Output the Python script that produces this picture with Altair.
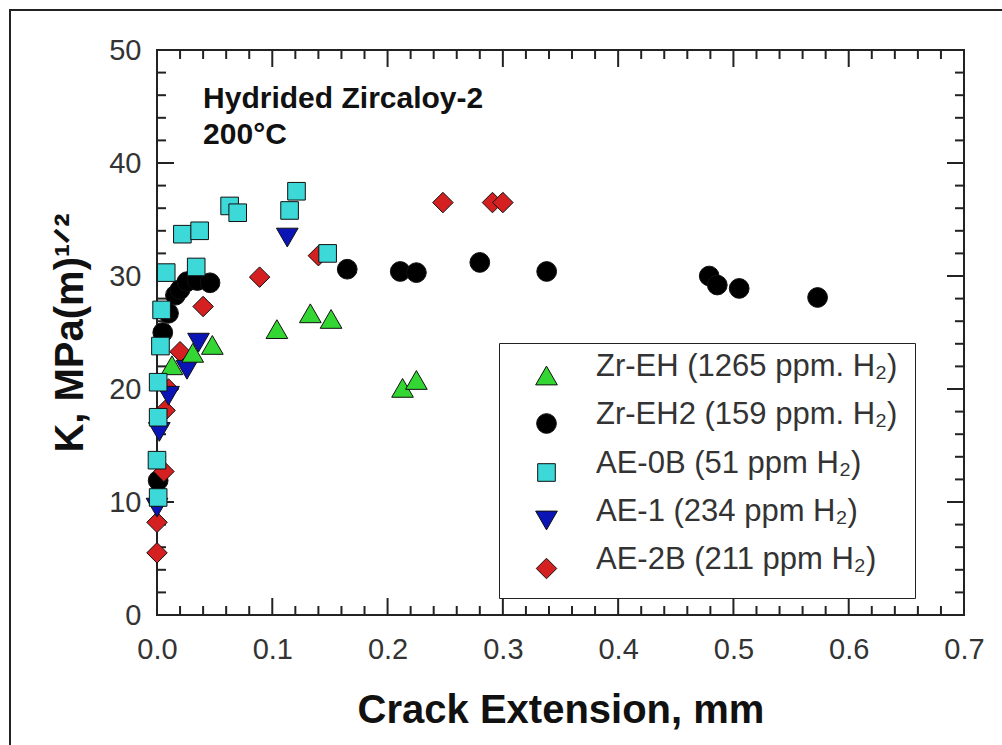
import altair as alt
import pandas as pd

# ---------------- data ----------------
names = ["Zr-EH (1265 ppm. H\u2082)", "Zr-EH2 (159 ppm. H\u2082)", "AE-0B (51 ppm H\u2082)",
         "AE-1 (234 ppm H\u2082)", "AE-2B (211 ppm H\u2082)"]
colors = ["#33d633", "#000000", "#3dd9d9", "#0b14b5", "#d42020"]
shapes = ["triangle-up", "circle", "square", "triangle-down", "diamond"]
sizes = [470, 390, 310, 470, 420]

zr_eh_x = [0.013, 0.031, 0.048, 0.104, 0.133, 0.151, 0.213, 0.225]
zr_eh_y = [22.1, 23.2, 23.9, 25.3, 26.7, 26.2, 20.1, 20.8]

zr_eh2_x = [0.001, 0.005, 0.010, 0.016, 0.020, 0.026, 0.035, 0.046, 0.165, 0.211,
            0.225, 0.280, 0.338, 0.479, 0.486, 0.505, 0.573]
zr_eh2_y = [11.9, 25.0, 26.7, 28.3, 28.8, 29.5, 29.6, 29.4, 30.6, 30.4,
            30.3, 31.2, 30.4, 30.0, 29.2, 28.9, 28.1]

ae0b_x = [0.001, 0.000, 0.001, 0.001, 0.003, 0.004, 0.008, 0.022, 0.034, 0.037,
          0.063, 0.070, 0.115, 0.121, 0.148]
ae0b_y = [10.4, 13.7, 17.5, 20.6, 23.8, 27.0, 30.3, 33.7, 30.8, 34.0,
          36.2, 35.6, 35.8, 37.5, 32.0]

ae1_x = [0.000, 0.002, 0.010, 0.026, 0.036, 0.113]
ae1_y = [9.5, 16.2, 19.4, 21.7, 24.1, 33.4]

ae2b_x = [0.000, 0.000, 0.006, 0.007, 0.010, 0.020, 0.040, 0.089, 0.140, 0.248, 0.291, 0.300]
ae2b_y = [5.5, 8.2, 12.7, 18.1, 20.0, 23.3, 27.3, 29.9, 31.8, 36.5, 36.5, 36.5]

x_major = [0.0, 0.1, 0.2, 0.3, 0.4, 0.5, 0.6, 0.7]
x_minor = [round(i * 0.02, 2) for i in range(1, 35) if i % 5 != 0]
y_major = [0, 10, 20, 30, 40, 50]
y_minor = [v for v in range(2, 50, 2) if v % 10 != 0]

ann_x = [0.04, 0.04]
ann_y = [44.87, 41.7]
ann_text = ["Hydrided Zircaloy-2", "200\u00b0C"]

# ---------------- tables ----------------
series = {
    names[0]: (zr_eh_x, zr_eh_y),
    names[1]: (zr_eh2_x, zr_eh2_y),
    names[2]: (ae0b_x, ae0b_y),
    names[3]: (ae1_x, ae1_y),
    names[4]: (ae2b_x, ae2b_y),
}
draw_order = [1, 4, 3, 0, 2]
rows = []
for i in draw_order:
    xs_, ys_ = series[names[i]]
    rows += [{"series": names[i], "x": a, "y": b} for a, b in zip(xs_, ys_)]
df = pd.DataFrame(rows)
ann = pd.DataFrame({"x": ann_x, "y": ann_y, "t": ann_text})
xmaj = pd.DataFrame({"v": x_major})
xmin = pd.DataFrame({"v": x_minor})
ymaj = pd.DataFrame({"v": y_major})
ymin = pd.DataFrame({"v": y_minor})

W, H = 807, 565
FONT = "Liberation Sans"
TICK = "#222"
xs = alt.Scale(domain=[0, 0.7], nice=False, zero=False)
ys = alt.Scale(domain=[0, 50], nice=False, zero=False)

legend = alt.Legend(
    title=None, orient="none", legendX=342, legendY=293,
    strokeColor="#222", fillColor="white", padding=17,
    labelFont=FONT, labelFontSize=31, labelColor="#333", labelLimit=600,
    labelBaseline="alphabetic", labelOffset=34, symbolOffset=15,
    symbolSize=200, symbolStrokeColor="#111", symbolStrokeWidth=1,
    rowPadding=11,
)

pts = alt.Chart(df).mark_point(filled=True, opacity=1, stroke="#111", strokeWidth=1).encode(
    x=alt.X("x:Q", scale=xs, axis=alt.Axis(
        orient="bottom", values=x_major, format=".1f", ticks=False, domain=False, grid=False,
        labelFont=FONT, labelFontSize=29, labelColor="#333", labelPadding=20, labelFlush=False,
        title="Crack Extension, mm", titleFont=FONT, titleFontSize=40, titleFontWeight="bold",
        titleColor="#111", titlePadding=26)),
    y=alt.Y("y:Q", scale=ys, axis=alt.Axis(
        orient="left", values=y_major, format="d", ticks=False, domain=False, grid=False,
        labelFont=FONT, labelFontSize=29, labelColor="#333", labelPadding=16, labelFlush=False,
        title="K, MPa(m)\u00b9\u141f\u00b2", titleFont=FONT, titleFontSize=40, titleFontWeight="bold",
        titleColor="#111", titlePadding=18)),
    color=alt.Color("series:N", scale=alt.Scale(domain=names, range=colors), legend=legend),
    shape=alt.Shape("series:N", scale=alt.Scale(domain=names, range=shapes), legend=legend),
    size=alt.Size("series:N", scale=alt.Scale(type="ordinal", domain=names, range=sizes), legend=None),
)


def xticks(data, start, end):
    return alt.Chart(data).mark_rule(color=TICK, strokeWidth=2).encode(
        x=alt.X("v:Q", scale=xs, axis=None),
        y=alt.value(start), y2=alt.value(end),
    )


def yticks(data, start, end):
    return alt.Chart(data).mark_rule(color=TICK, strokeWidth=2).encode(
        y=alt.Y("v:Q", scale=ys, axis=None),
        x=alt.value(start), x2=alt.value(end),
    )


MAJ, MIN = 17, 9
ticks = [
    xticks(xmaj, H, H - MAJ), xticks(xmaj, 0, MAJ),
    xticks(xmin, H, H - MIN), xticks(xmin, 0, MIN),
    yticks(ymaj, 0, MAJ), yticks(ymaj, W, W - MAJ),
    yticks(ymin, 0, MIN), yticks(ymin, W, W - MIN),
]

text = alt.Chart(ann).mark_text(align="left", baseline="alphabetic", font=FONT, fontSize=30,
                                fontWeight="bold", color="#111").encode(
    x=alt.X("x:Q", scale=xs, axis=None),
    y=alt.Y("y:Q", scale=ys, axis=None),
    text="t:N",
)

frame = alt.Chart(alt.Data(values=[{}])).mark_rect(fillOpacity=0, stroke="#222", strokeWidth=2).encode(
    x=alt.value(-147), x2=alt.value(W + 80), y=alt.value(-40), y2=alt.value(H + 200),
)

chart = alt.layer(frame, *ticks, pts, text).resolve_axis(
    x="independent", y="independent"
).properties(
    width=W, height=H,
    autosize=alt.AutoSizeParams(type="none"),
    padding={"left": 157, "top": 50, "right": 38, "bottom": 130},
    background="white",
).configure_view(stroke="#222", strokeWidth=2)

chart.save("out.html", embed_options={"renderer": "svg", "actions": False})
